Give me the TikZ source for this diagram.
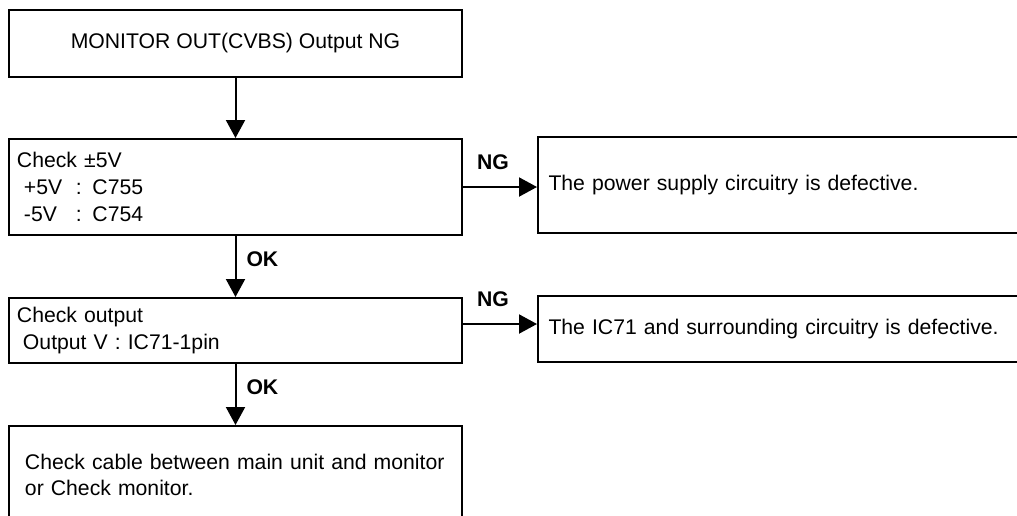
\documentclass[tikz,border=0pt]{standalone}
\usepackage{fontspec}
\setmainfont{Liberation Sans}
\usetikzlibrary{arrows.meta,positioning,calc}
\tikzset{
  box/.style={draw=black, line width=1pt, rectangle, anchor=north west, inner ysep=0pt, inner xsep=4pt, align=left, font=\fontsize{10.6}{13.4}\selectfont},
  arr/.style={-{Triangle[length=9pt,width=9.5pt]}, line width=1pt, draw=black},
  lbl/.style={font=\fontsize{10.6}{13.4}\selectfont\bfseries, inner sep=0pt, anchor=base west}
}

\begin{document}
\begin{tikzpicture}[x=0.5pt,y=-0.5pt]
\useasboundingbox (0,0) rectangle (1017,515);
\clip (0,0) rectangle (1017,515);
\fill[white] (0,0) rectangle (1017,515);
\node[box, align=center, minimum width=226.5pt, minimum height=33.5pt] (start) at (8,9) {MONITOR OUT(CVBS) Output NG};
\node[box, text width=218.5pt, minimum height=48pt] (chk) at (8,138)
  {Check ±5V\\\hspace*{3.5pt}\makebox[26pt][l]{+5V}: C755\\\hspace*{3.5pt}\makebox[26pt][l]{-5V}: C754};
\node[box, text width=218.5pt, minimum height=32.5pt] (chkout) at (8,297)
  {Check output\\\hspace*{3pt}Output V : IC71-1pin};
\node[box, inner xsep=8pt, text width=210.5pt, minimum height=49pt] (cable) at (8,425)
  {Check cable between main unit and monitor\\or Check monitor.};
\node[box, inner xsep=5.25pt, text width=300pt, minimum height=48pt] (psu) at (537,136)
  {The power supply circuitry is defective.};
\node[box, inner xsep=5.25pt, text width=300pt, minimum height=33pt] (ic71) at (537,295)
  {The IC71 and surrounding circuitry is defective.};
\coordinate (ng2) at ([yshift=3.25pt]chkout.east);

\draw[arr] (start) -- (chk);
\draw[arr] (chk) -- node[lbl, xshift=5pt] {OK} (chkout);
\draw[arr] (chkout) -- node[lbl, xshift=5pt] {OK} (cable);
\draw[arr] (chk.east) node[lbl, xshift=6.5pt, yshift=9pt] {NG} -- (chk.east -| psu.west);
\draw[arr] (ng2) node[lbl, xshift=6.5pt, yshift=9pt] {NG} -- (ng2 -| ic71.west);
\end{tikzpicture}
\end{document}
